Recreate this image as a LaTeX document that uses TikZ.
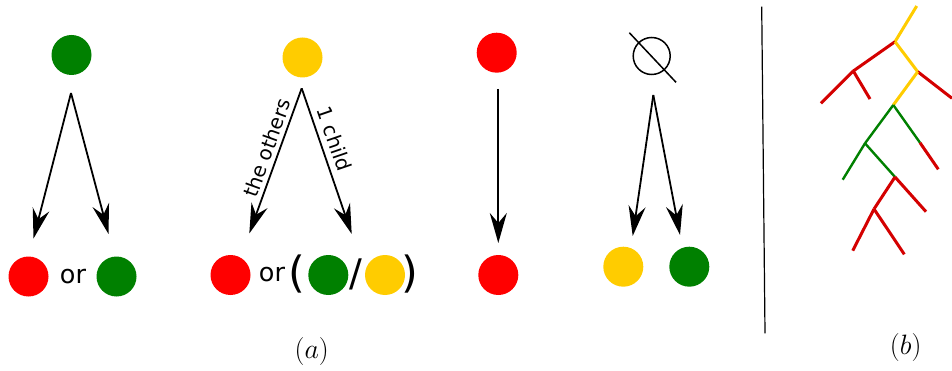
\documentclass[tikz,border=0pt]{standalone}
\usepackage{fix-cm}
\usepackage{fontspec}
\setsansfont{DejaVu Sans}
\usetikzlibrary{arrows.meta}
\definecolor{cgreen}{HTML}{008000}
\definecolor{cyellow}{HTML}{FFCC00}
\definecolor{cred}{HTML}{FF0000}
\definecolor{tred}{HTML}{D40000}
\tikzset{
  dot/.style={circle, fill=#1, minimum size=40pt, inner sep=0pt, draw=none},
  arr/.style={line width=1.8pt, -{Stealth[length=30pt,width=17pt,inset=10pt]}},
  ortext/.style={font=\sffamily\fontsize{25.5}{29}\selectfont, inner sep=0pt},
  paren/.style={font=\sffamily\fontsize{43}{47}\selectfont, inner sep=0pt},
  slashtext/.style={font=\sffamily\fontsize{38}{42}\selectfont, inner sep=0pt},
  lbl/.style={font=\sffamily\fontsize{20}{23}\selectfont, inner sep=0pt},
  captext/.style={font=\fontsize{28}{32}\selectfont, inner sep=0pt},
  tr/.style={line width=3pt, tred},
  ty/.style={line width=3pt, cyellow},
  tg/.style={line width=2.4pt, cgreen}
}
\begin{document}
\begin{tikzpicture}[x=1pt,y=-1pt]
\useasboundingbox (0,0) rectangle (952,371);
% column 1
\node[dot=cgreen] (g1) at (71.5,55) {};
\coordinate (s1) at (71,93);
\coordinate (e1a) at (33.5,238.5);
\coordinate (e1b) at (108.5,234);
\draw[arr] (s1) -- (e1a);
\draw[arr] (s1) -- (e1b);
\node[dot=cred] (r1) at (28.5,276.5) {};
\node[ortext] (or1) at (73,276.5) {or};
\node[dot=cgreen] (g1b) at (116.5,276.5) {};
% column 2
\node[dot=cyellow] (y2) at (302.5,57.5) {};
\coordinate (s2) at (301.7,88.3);
\coordinate (e2a) at (249.3,233.5);
\coordinate (e2b) at (351.7,234);
\draw[arr] (s2) -- (e2a);
\draw[arr] (s2) -- (e2b);
\node[lbl, rotate=70.1] (l2a) at (267,148) {the others};
\node[lbl, rotate=-71] (l2b) at (334.5,139) {1 child};
\node[dot=cred] (r2) at (230.5,275) {};
\node[ortext] (or2) at (272,275) {or};
\node[paren] (p2a) at (297.2,274) {(};
\node[dot=cgreen] (g2) at (328.3,275) {};
\node[slashtext] (sl2) at (356.3,274) {/};
\node[dot=cyellow] (y2b) at (385,275) {};
\node[paren] (p2b) at (409.5,274) {)};
% column 3
\node[dot=cred] (r3) at (496.7,52.7) {};
\coordinate (s3) at (498.3,89);
\coordinate (e3) at (498.3,243);
\draw[arr] (s3) -- (e3);
\node[dot=cred] (r3b) at (498.3,275) {};
% column 4: empty set
\node[circle, draw=black, line width=1.5pt, minimum size=37pt, inner sep=0pt] (es) at (651.7,56) {};
\coordinate (esa) at (629.3,32.7);
\coordinate (esb) at (676,82.3);
\draw[line width=1.5pt] (esa) -- (esb);
\coordinate (s4) at (653.3,95);
\coordinate (e4a) at (632.7,236);
\coordinate (e4b) at (680,235);
\draw[arr] (s4) -- (e4a);
\draw[arr] (s4) -- (e4b);
\node[dot=cyellow] (y4) at (623.3,266.7) {};
\node[dot=cgreen] (g4) at (689.3,266.7) {};
% separator
\coordinate (va) at (761.7,6.7);
\coordinate (vb) at (765,333.3);
\draw[line width=1.2pt] (va) -- (vb);
% tree
\coordinate (t0) at (916.7,6);
\coordinate (t1) at (895,41.7);
\coordinate (t2) at (853.3,71);
\coordinate (t3) at (821,103.3);
\coordinate (t4) at (870,99);
\coordinate (t5) at (917.7,71.7);
\coordinate (t6) at (952,98.3);
\coordinate (t7) at (893.3,105);
\coordinate (t8) at (865,143.3);
\coordinate (t9) at (920,142.7);
\coordinate (t10) at (938.3,169.3);
\coordinate (t11) at (842.7,179.7);
\coordinate (t12) at (895,177);
\coordinate (t13) at (926,211.7);
\coordinate (t14) at (874,209);
\coordinate (t15) at (852.7,250.7);
\coordinate (t16) at (904.3,254.3);
\draw[ty] (t0) -- (t1);
\draw[tr] (t1) -- (t2);
\draw[tr] (t2) -- (t3);
\draw[tr] (t2) -- (t4);
\draw[ty] (t1) -- (t5);
\draw[tr] (t5) -- (t6);
\draw[ty] (t5) -- (t7);
\draw[tg] (t7) -- (t8);
\draw[tg] (t7) -- (t9);
\draw[tr] (t9) -- (t10);
\draw[tg] (t8) -- (t11);
\draw[tg] (t8) -- (t12);
\draw[tr] (t12) -- (t13);
\draw[tr] (t12) -- (t14);
\draw[tr] (t14) -- (t15);
\draw[tr] (t14) -- (t16);
% captions
\node[captext] (ca) at (311.7,351) {$(a)$};
\node[captext] (cb) at (905.7,347) {$(b)$};
\end{tikzpicture}
\end{document}
